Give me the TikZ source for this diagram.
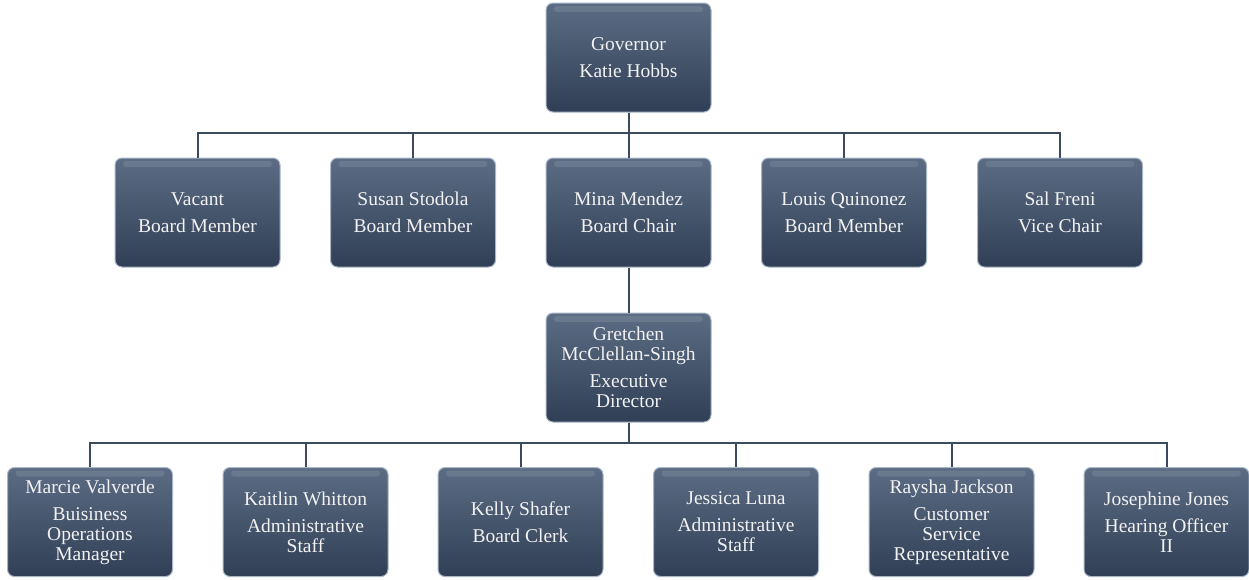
\documentclass[tikz,border=0pt]{standalone}
\usepackage{fontspec}
\setmainfont{Liberation Serif}
\begin{document}
\begin{tikzpicture}[x=1pt,y=-1pt,
  every node/.style={font=\fontsize{19.5}{20}\selectfont},
  orgbox/.style={rectangle, rounded corners=7pt, minimum width=165pt, minimum height=109pt,
    top color=boxtop, bottom color=boxbot, draw=boxedge, line width=1pt,
    text=white!90!gray, align=center, inner sep=2pt,
    path picture={\fill[white,opacity=0.10,rounded corners=3pt]
      ([xshift=8pt,yshift=-3pt]path picture bounding box.north west) rectangle
      ([xshift=-8pt,yshift=-9pt]path picture bounding box.north east);}},
  link/.style={draw=linecol, line width=2pt}]
\definecolor{boxtop}{HTML}{5B6C84}
\definecolor{boxbot}{HTML}{303F55}
\definecolor{boxedge}{HTML}{A8B6C6}
\definecolor{linecol}{HTML}{3B4A5E}
\useasboundingbox (0,0) rectangle (1249,579);
% top
\node[orgbox] (gov) at (628.5,57.5) {Governor\\[7pt]Katie Hobbs};
% board
\node[orgbox] (b1) at (197.5,212.5) {Vacant\\[7pt]Board Member};
\node[orgbox] (b2) at (413,212.5) {Susan Stodola\\[7pt]Board Member};
\node[orgbox] (b3) at (628.5,212.5) {Mina Mendez\\[7pt]Board Chair};
\node[orgbox] (b4) at (844,212.5) {Louis Quinonez\\[7pt]Board Member};
\node[orgbox] (b5) at (1060,212.5) {Sal Freni\\[7pt]Vice Chair};
% exec
\node[orgbox] (ed) at (628.5,367.5) {Gretchen\\McClellan-Singh\\[7pt]Executive\\Director};
% staff
\node[orgbox] (s1) at (90,522) {Marcie Valverde\\[7pt]Buisiness\\Operations\\Manager};
\node[orgbox] (s2) at (305.5,522) {Kaitlin Whitton\\[7pt]Administrative\\Staff};
\node[orgbox] (s3) at (520.5,522) {Kelly Shafer\\[7pt]Board Clerk};
\node[orgbox] (s4) at (736,522) {Jessica Luna\\[7pt]Administrative\\Staff};
\node[orgbox] (s5) at (951.5,522) {Raysha Jackson\\[7pt]Customer\\Service\\Representative};
\node[orgbox] (s6) at (1166.5,522) {Josephine Jones\\[7pt]Hearing Officer\\II};
% connectors
\coordinate (bus1) at (628.5,132.5);
\foreach \b in {b1,b2,b3,b4,b5}{
  \draw[link] (gov.south) -- (bus1) -| (\b.north);
}
\draw[link] (b3.south) -- (ed.north);
\coordinate (bus2) at (628.5,443);
\foreach \s in {s1,s2,s3,s4,s5,s6}{
  \draw[link] (ed.south) -- (bus2) -| (\s.north);
}
\end{tikzpicture}
\end{document}
